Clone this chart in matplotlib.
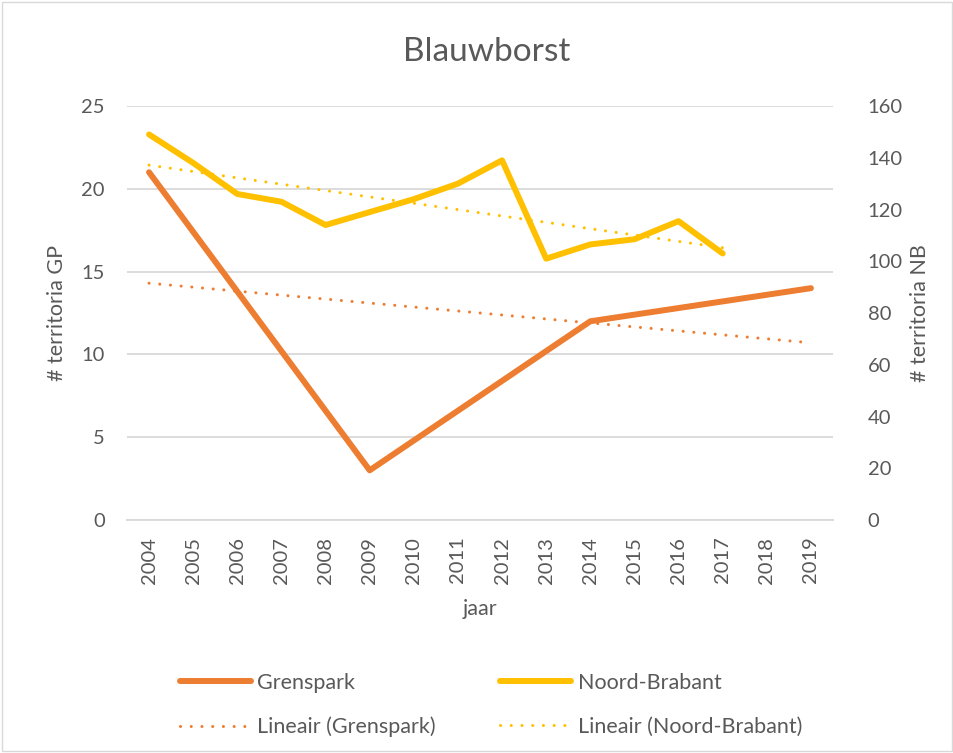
import numpy as np
import matplotlib.pyplot as plt
from matplotlib.patches import Rectangle

plt.rcParams['font.family'] = ['Lato', 'DejaVu Sans']

years = ['2004', '2005', '2006', '2007', '2008', '2009', '2010', '2011',
         '2012', '2013', '2014', '2015', '2016', '2017', '2018', '2019']
# Grenspark only counted every 5 years, missing years are gaps
grenspark = [21, None, None, None, None, 3, None, None,
             None, None, 12, None, None, None, None, 14]
noord_brabant = [149, 138, 126, 123, 114, 119, 124, 130,
                 139, 101, 106.5, 108.5, 115.5, 103, None, None]

orange = '#ED7D31'
yellow = '#FFC000'
grey_txt = '#595959'
grid_col = '#D9D9D9'

fig = plt.figure(figsize=(9.54, 7.53), dpi=100)
ax = fig.add_axes([127/954, 1 - 520/753, (833-127)/954, (520-106)/753])
ax2 = ax.twinx()

x = np.arange(len(years))
gp = np.array([np.nan if v is None else v for v in grenspark], dtype=float)
nb = np.array([np.nan if v is None else v for v in noord_brabant], dtype=float)
mg = ~np.isnan(gp)
mn = ~np.isnan(nb)

# trend lines (Excel "Lineair")
cg = np.polyfit(x[mg], gp[mg], 1)
cn = np.polyfit(x[mn], nb[mn], 1)
xg = x[mg][[0, -1]]
xn = x[mn][[0, -1]]

l_gp, = ax.plot(x[mg], gp[mg], color=orange, lw=4.3, solid_capstyle='round',
                solid_joinstyle='round', label='Grenspark', zorder=3)
l_gpt, = ax.plot(xg, np.polyval(cg, xg), color=orange, lw=2.2, ls=(0, (0.01, 3.5)),
                 dash_capstyle='round', label='Lineair (Grenspark)', zorder=3)
l_nb, = ax2.plot(x[mn], nb[mn], color=yellow, lw=4.3, solid_capstyle='round',
                 solid_joinstyle='round', label='Noord-Brabant', zorder=3)
l_nbt, = ax2.plot(xn, np.polyval(cn, xn), color=yellow, lw=2.2, ls=(0, (0.01, 3.5)),
                  dash_capstyle='round', label='Lineair (Noord-Brabant)', zorder=3)

ax.set_xlim(-0.5, len(years) - 0.5)
ax.set_ylim(0, 25)
ax.set_yticks(range(0, 26, 5))
ax2.set_ylim(0, 160)
ax2.set_yticks(range(0, 161, 20))
ax.set_xticks(x)
ax.set_xticklabels(years, rotation=90)

ax.grid(axis='y', color=grid_col, lw=1.3)
ax.set_axisbelow(True)
for a in (ax, ax2):
    for s in a.spines.values():
        s.set_visible(False)
    a.tick_params(length=0, labelsize=14.5, colors=grey_txt)
ax.spines['bottom'].set_visible(True)
ax.spines['bottom'].set_color(grid_col)
ax.spines['bottom'].set_linewidth(1.3)
ax.tick_params(axis='y', pad=16)
ax2.tick_params(axis='y', pad=25)
ax.tick_params(axis='x', pad=12)

ax.set_ylabel('# territoria GP', fontsize=15.5, color=grey_txt, labelpad=10)
ax2.set_ylabel('# territoria NB', fontsize=15.5, color=grey_txt, labelpad=5)
ax.set_xlabel('jaar', fontsize=15.5, color=grey_txt, labelpad=11)

fig.text(487/954, 1 - 52/753, 'Blauwborst', ha='center', va='center',
         fontsize=24, color=grey_txt)

leg = fig.legend([l_gp, l_gpt, l_nb, l_nbt],
                 ['Grenspark', 'Lineair (Grenspark)', 'Noord-Brabant', 'Lineair (Noord-Brabant)'],
                 ncol=2, loc='center', bbox_to_anchor=(491/954, 1 - 705/753),
                 frameon=False, fontsize=15.5, handlelength=3.3, columnspacing=3.0,
                 labelspacing=1.1, handletextpad=0.3, labelcolor=grey_txt)

fig.patches.append(Rectangle((0.002, 0.002), 0.996, 0.996, transform=fig.transFigure,
                             fill=False, edgecolor=grid_col, lw=1))

fig.savefig('out.png', dpi=100)
